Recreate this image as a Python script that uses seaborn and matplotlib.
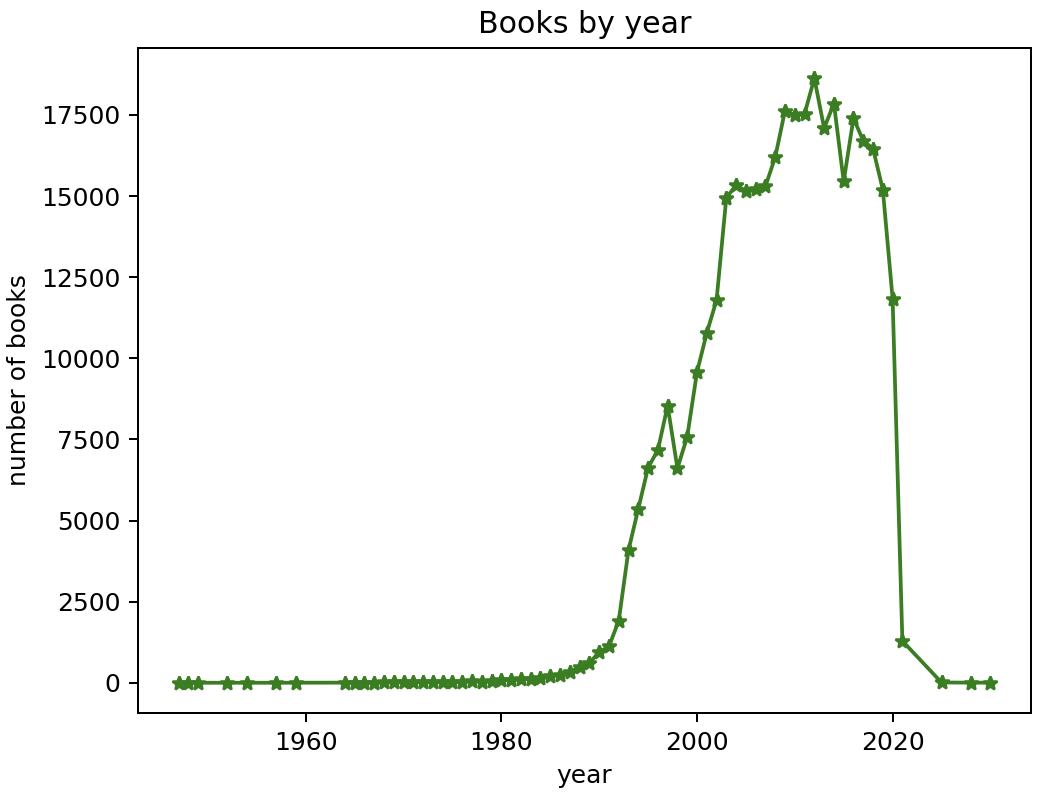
import matplotlib
matplotlib.use("Agg")
import matplotlib.pyplot as plt
import seaborn as sns
import pandas as pd

years = [1947, 1948, 1949, 1952, 1954, 1957, 1959,
         1964, 1965, 1966, 1967, 1968, 1969, 1970, 1971, 1972, 1973,
         1974, 1975, 1976, 1977, 1978, 1979, 1980, 1981, 1982, 1983,
         1984, 1985, 1986, 1987, 1988, 1989, 1990, 1991, 1992, 1993,
         1994, 1995, 1996, 1997, 1998, 1999, 2000, 2001, 2002, 2003,
         2004, 2005, 2006, 2007, 2008, 2009, 2010, 2011, 2012, 2013,
         2014, 2015, 2016, 2017, 2018, 2019, 2020, 2021, 2025, 2028, 2030]
books = [2, 1, 2, 1, 2, 1, 3,
         5, 6, 8, 9, 10, 12, 14, 15, 16, 18,
         20, 22, 25, 70, 35, 50, 80, 85, 105, 125,
         155, 205, 255, 340, 480, 610, 950, 1120, 1910, 4090,
         5360, 6630, 7170, 8540, 6610, 7580, 9570, 10780, 11790, 14950,
         15330, 15160, 15230, 15300, 16200, 17630, 17490, 17530, 18630, 17090,
         17850, 15450, 17400, 16700, 16460, 15200, 11840, 1290, 10, 5, 5]

df = pd.DataFrame({"year": years, "books": books})

color = "#3b7d23"
fig = plt.figure(figsize=(1044 / 180, 800 / 180), dpi=180)
ax = fig.add_axes([138 / 1044, 87 / 800, 893 / 1044, 665 / 800])
sns.lineplot(data=df, x="year", y="books", ax=ax, color=color, marker="*",
             markersize=6, markeredgecolor=color, markeredgewidth=1.0,
             linewidth=1.5)
ax.set_title("Books by year")
ax.set_xlabel("year")
ax.set_ylabel("number of books")
ax.set_xticks([1960, 1980, 2000, 2020])
fig.savefig("out.png", dpi=180)
